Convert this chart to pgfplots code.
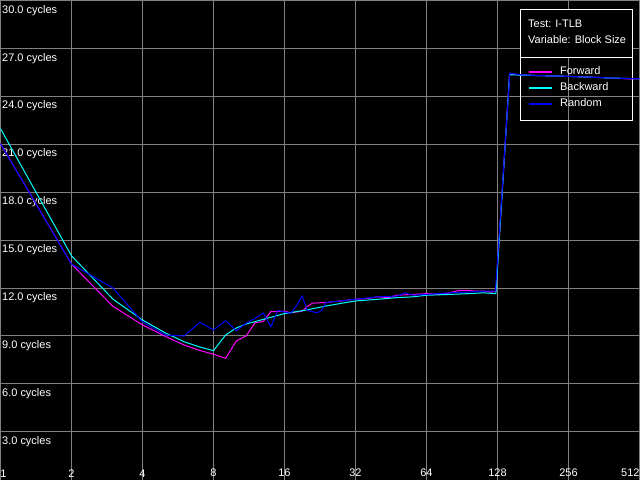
\documentclass[border=0pt]{standalone}
\usepackage{fontspec}
\setmainfont{Liberation Sans}
\usepackage{pgfplots}
\pgfplotsset{compat=1.18}
\definecolor{gridgray}{RGB}{128,128,128}
\definecolor{fwd}{RGB}{255,0,255}
\definecolor{bwd}{RGB}{0,255,255}
\definecolor{rnd}{RGB}{0,0,255}
\newcommand{\lbl}{\fontsize{11bp}{13bp}\selectfont}
\begin{document}
\begin{tikzpicture}
\begin{axis}[
  width=640bp, height=480bp, scale only axis,
  xmode=log, log basis x=2,
  xmin=1, xmax=512, ymin=0, ymax=30,
  axis background/.style={fill=black},
  axis line style={draw=none},
  grid=major,
  major grid style={gridgray, line width=1bp},
  major tick length=0pt,
  tick style={draw=none},
  xtick={1,2,4,8,16,32,64,128,256,512},
  xticklabels={\rlap{1},2,4,8,16,32,64,128,256,\llap{512}},
  ytick={3,6,9,12,15,18,21,24,27,30},
  yticklabels={3.0 cycles,6.0 cycles,9.0 cycles,12.0 cycles,15.0 cycles,18.0 cycles,21.0 cycles,24.0 cycles,27.0 cycles,30.0 cycles},
  xticklabel style={anchor=south, inner xsep=0pt, inner ysep=2.5bp, text=white, font=\lbl},
  yticklabel style={anchor=north west, inner xsep=1.5bp, inner ysep=4.5bp, text=white, font=\lbl},
  legend style={at={(rel axis cs:0.8255,0.8625)}, anchor=north west, draw=none, fill=none,
    font=\lbl, inner sep=0pt, column sep=7.5bp, row sep=5.5bp,
    nodes={inner sep=0pt, text height=8bp, text depth=2.5bp}},
  legend cell align=left,
]
\node[draw=white, line width=1bp, fill=black, anchor=north west, inner sep=0pt,
  minimum width=112.7bp, minimum height=48.4bp] at (rel axis cs:0.8125,0.98271) {};
\node[draw=white, line width=1bp, fill=none, anchor=north west, inner sep=0pt,
  minimum width=112.7bp, minimum height=63.3bp] at (rel axis cs:0.8125,0.88188) {};
\node[anchor=base west, inner sep=0pt, text=white, font=\lbl] at (rel axis cs:0.82547,0.94313) {Test: I-TLB};
\node[anchor=base west, inner sep=0pt, text=white, font=\lbl] at (rel axis cs:0.82547,0.91104) {Variable: Block Size};
\addplot[color=fwd, line width=1bp, forget plot] coordinates {
(1,21.04)(2,13.5)(3,10.85)(4,9.69)(5,8.97)(6,8.44)(7,8.09)(8,7.86)(9,7.6)
(10,8.69)(11,9.0)(12,9.83)(13,9.9)(14,10.52)(16,10.55)(17,10.45)(18,10.5)(19,10.55)
(20,10.85)(21,11.05)(22,11.07)(24,11.1)(28,11.2)(32,11.3)(36,11.35)(40,11.45)(44,11.4)
(48,11.55)(56,11.6)(64,11.65)(72,11.6)(80,11.7)(88,11.85)(96,11.85)(104,11.8)(112,11.8)
(120,11.75)(126,11.8)(144,25.4)(160,25.35)(192,25.3)(256,25.25)(320,25.2)(384,25.15)(448,25.1)(512,25.1)
};
\addplot[color=bwd, line width=1bp, forget plot] coordinates {
(1,21.98)(2,14.02)(3,11.3)(4,10.0)(5,9.19)(6,8.64)(7,8.31)(8,8.08)(9,9.06)
(10,9.5)(11,9.75)(12,9.9)(14,10.17)(16,10.4)(20,10.64)(24,10.875)(28,11.05)(32,11.19)
(40,11.3)(48,11.4)(56,11.45)(64,11.55)(80,11.6)(96,11.65)(112,11.7)(126,11.65)
(144,25.35)(192,25.3)(256,25.25)(384,25.15)(512,25.1)
};
\addplot[color=rnd, line width=1bp, forget plot] coordinates {
(1,21.04)(2,13.5)(3,12.0)(4,9.875)(5,9.06)(6,9.0)(7,9.86)(8,9.375)(9,9.96)
(10,9.33)(11,9.8)(12,10.1)(13,10.44)(14,9.58)(15,10.6)(16,10.5)(17,10.42)(18,10.9)(19,11.5)
(20,10.6)(22,10.45)(23,10.6)(24,11.1)(28,11.2)(32,11.3)(40,11.45)(48,11.5)(52,11.7)(56,11.55)
(64,11.6)(80,11.7)(96,11.75)(112,11.8)(125.5,11.8)(144.4,25.45)(160,25.35)(192,25.3)(256,25.25)(384,25.15)(512,25.1)
};
\addlegendimage{legend image code/.code={\draw[color=fwd, line width=1.5bp] (0bp,0bp) -- (23bp,0bp);}}
\addlegendentry{\textcolor{white}{Forward}}
\addlegendimage{legend image code/.code={\draw[color=bwd, line width=1.5bp] (0bp,0bp) -- (23bp,0bp);}}
\addlegendentry{\textcolor{white}{Backward}}
\addlegendimage{legend image code/.code={\draw[color=rnd, line width=1.5bp] (0bp,0bp) -- (23bp,0bp);}}
\addlegendentry{\textcolor{white}{Random}}
\end{axis}
\end{tikzpicture}
\end{document}
